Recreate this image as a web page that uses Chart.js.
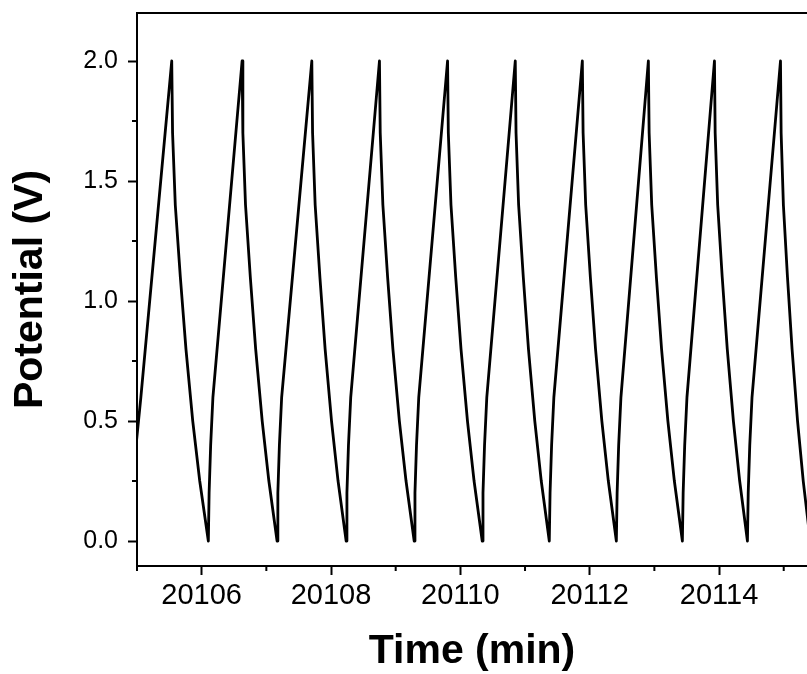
<!DOCTYPE html>
<html>
<head>
<meta charset="utf-8">
<script src="https://cdn.jsdelivr.net/npm/chart.js@4/dist/chart.umd.min.js"></script>
<style>
  html, body { margin: 0; padding: 0; background: #fff; }
  canvas { display: block; }
</style>
</head>
<body>
<canvas id="grafico" width="807" height="674"></canvas>
<script>
// Tempo (min) e potencial (V)
const tempo = [
    20104.95, 20104.962, 20104.986, 20105.06,
    20105.537, 20105.550, 20105.592, 20105.670, 20105.757, 20105.862, 20105.970, 20106.103, 20106.115, 20106.139, 20106.174,
    20106.625, 20106.637, 20106.678, 20106.752, 20106.835, 20106.936, 20107.039, 20107.166, 20107.178, 20107.202, 20107.237,
    20107.703, 20107.715, 20107.755, 20107.828, 20107.909, 20108.008, 20108.109, 20108.234, 20108.246, 20108.270, 20108.305,
    20108.749, 20108.761, 20108.802, 20108.875, 20108.957, 20109.057, 20109.160, 20109.286, 20109.298, 20109.322, 20109.357,
    20109.802, 20109.814, 20109.855, 20109.928, 20110.010, 20110.110, 20110.212, 20110.338, 20110.350, 20110.374, 20110.409,
    20110.849, 20110.861, 20110.901, 20110.973, 20111.053, 20111.151, 20111.251, 20111.375, 20111.387, 20111.411, 20111.446,
    20111.886, 20111.898, 20111.938, 20112.010, 20112.090, 20112.188, 20112.288, 20112.412, 20112.424, 20112.448, 20112.483,
    20112.907, 20112.919, 20112.959, 20113.031, 20113.111, 20113.209, 20113.309, 20113.433, 20113.445, 20113.469, 20113.504,
    20113.929, 20113.940, 20113.979, 20114.049, 20114.127, 20114.222, 20114.319, 20114.439, 20114.451, 20114.475, 20114.510,
    20114.950, 20114.960, 20114.995, 20115.058, 20115.129, 20115.214, 20115.302, 20115.41
];
const potencial = [
    0.0, 0.2, 0.4, 0.6,
    2.0, 1.7, 1.4, 1.1, 0.8, 0.5, 0.25, 0.0, 0.2, 0.4, 0.6,
    2.0, 1.7, 1.4, 1.1, 0.8, 0.5, 0.25, 0.0, 0.2, 0.4, 0.6,
    2.0, 1.7, 1.4, 1.1, 0.8, 0.5, 0.25, 0.0, 0.2, 0.4, 0.6,
    2.0, 1.7, 1.4, 1.1, 0.8, 0.5, 0.25, 0.0, 0.2, 0.4, 0.6,
    2.0, 1.7, 1.4, 1.1, 0.8, 0.5, 0.25, 0.0, 0.2, 0.4, 0.6,
    2.0, 1.7, 1.4, 1.1, 0.8, 0.5, 0.25, 0.0, 0.2, 0.4, 0.6,
    2.0, 1.7, 1.4, 1.1, 0.8, 0.5, 0.25, 0.0, 0.2, 0.4, 0.6,
    2.0, 1.7, 1.4, 1.1, 0.8, 0.5, 0.25, 0.0, 0.2, 0.4, 0.6,
    2.0, 1.7, 1.4, 1.1, 0.8, 0.5, 0.25, 0.0, 0.2, 0.4, 0.6,
    2.0, 1.7, 1.4, 1.1, 0.8, 0.5, 0.25, 0.0
];

// Marcas dos eixos
const xTicks = [20106, 20108, 20110, 20112, 20114];
const xTicksMenores = [20105, 20107, 20109, 20111, 20113, 20115];
const yTicks = [0.0, 0.5, 1.0, 1.5, 2.0];
const yTicksMenores = [0.25, 0.75, 1.25, 1.75];

const fonte = "'Liberation Sans', Arial, sans-serif";

// Borda superior e marcas menores (para fora)
const moldura = {
    id: "moldura",
    afterDraw(chart) {
        const { ctx, chartArea: a, scales: { x, y } } = chart;
        ctx.save();
        ctx.strokeStyle = "#000";
        ctx.lineWidth = 2;
        ctx.beginPath();
        ctx.moveTo(a.left - 1, a.top);
        ctx.lineTo(a.right, a.top);
        yTicksMenores.forEach(v => {
            const p = y.getPixelForValue(v);
            ctx.moveTo(a.left - 5, p);
            ctx.lineTo(a.left, p);
        });
        xTicksMenores.forEach(v => {
            const p = x.getPixelForValue(v);
            ctx.moveTo(p, a.bottom);
            ctx.lineTo(p, a.bottom + 5);
        });
        ctx.stroke();
        ctx.restore();
    }
};

const ctx = document.getElementById("grafico").getContext("2d");
new Chart(ctx, {
    type: "line",
    data: {
        datasets: [{
            data: tempo.map((t, i) => ({ x: t, y: potencial[i] })),
            borderColor: "#000",
            borderWidth: 2.8,
            borderJoinStyle: "round",
            pointRadius: 0,
            tension: 0,
            fill: false
        }]
    },
    options: {
        responsive: false,
        animation: false,
        layout: { padding: { top: 13, right: 0, left: 0, bottom: 0 } },
        plugins: {
            legend: { display: false },
            tooltip: { enabled: false }
        },
        scales: {
            x: {
                type: "linear",
                min: 20105,
                max: 20115.36,
                afterFit: s => { s.height = 108; s.paddingLeft = 0; s.paddingRight = 0; },
                afterBuildTicks: s => { s.ticks = xTicks.map(v => ({ value: v })); },
                ticks: {
                    color: "#000",
                    font: { family: fonte, size: 29 },
                    padding: 4,
                    maxRotation: 0,
                    callback: v => String(v)
                },
                grid: {
                    drawOnChartArea: false,
                    drawTicks: true,
                    tickLength: 9,
                    tickWidth: 2,
                    tickColor: "#000"
                },
                border: { display: true, color: "#000", width: 2 },
                title: {
                    display: true,
                    text: "Time (min)",
                    color: "#000",
                    font: { family: fonte, size: 41, weight: "bold", lineHeight: 1 },
                    padding: { top: 0, bottom: 2 }
                }
            },
            y: {
                type: "linear",
                min: -0.104,
                max: 2.2,
                afterFit: s => { s.width = 137; s.paddingTop = 0; s.paddingBottom = 0; },
                afterBuildTicks: s => { s.ticks = yTicks.map(v => ({ value: v })); },
                ticks: {
                    color: "#000",
                    font: { family: fonte, size: 25 },
                    padding: 10,
                    callback: v => Number(v).toFixed(1)
                },
                grid: {
                    drawOnChartArea: false,
                    drawTicks: true,
                    tickLength: 9,
                    tickWidth: 2,
                    tickColor: "#000"
                },
                border: { display: true, color: "#000", width: 2 },
                title: {
                    display: true,
                    text: "Potential (V)",
                    color: "#000",
                    font: { family: fonte, size: 41, weight: "bold", lineHeight: 1 },
                    padding: { top: 10, bottom: 0 }
                }
            }
        }
    },
    plugins: [moldura]
});
</script>
</body>
</html>
